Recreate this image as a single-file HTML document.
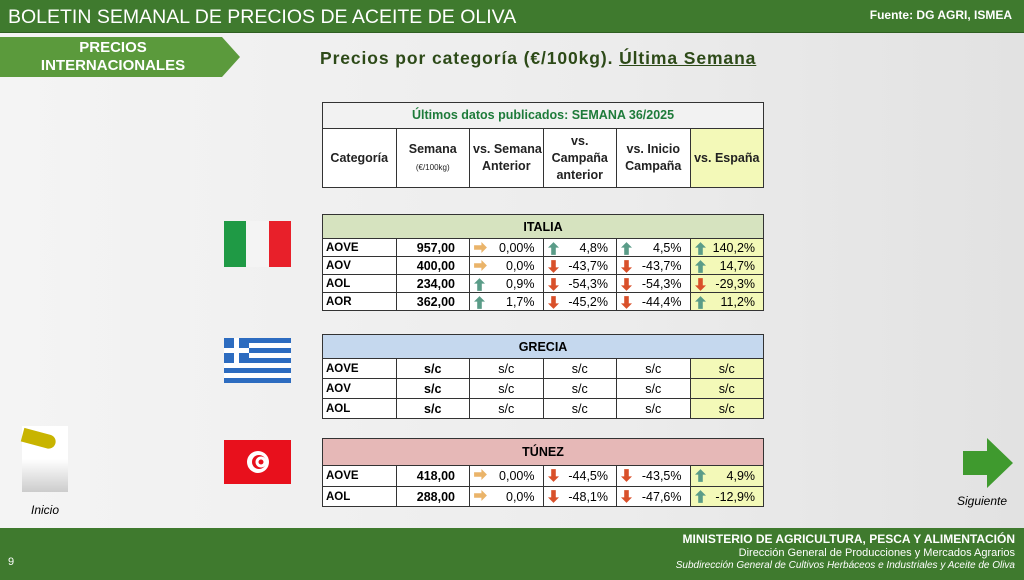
<!DOCTYPE html>
<html><head><meta charset="utf-8"><style>
*{margin:0;padding:0;box-sizing:border-box}
body{width:1024px;height:580px;position:relative;overflow:hidden;font-family:"Liberation Sans",sans-serif;background:linear-gradient(90deg,#f4f4f4,#ececec 60%,#e2e2e2)}
.top{position:absolute;left:0;top:0;width:1024px;height:33px;background:#3f7a2e;border-bottom:1px solid #2f5f22}
.top .t{position:absolute;left:8px;top:6px;color:#fff;font-size:19.5px}
.top .f{position:absolute;right:12px;top:8px;color:#fff;font-size:12px;font-weight:bold}
.tab{position:absolute;left:0;top:37px;width:240px;height:40px;background:#5b9a3c;clip-path:polygon(0 0,222px 0,240px 20px,222px 40px,0 40px);color:#fff;font-weight:bold;font-size:15px;text-align:center;line-height:18px;padding-top:2px;padding-right:14px}
.sub{position:absolute;left:320px;top:48px;font-size:17.5px;font-weight:bold;color:#2d4a18;letter-spacing:0.9px}
.sub u{text-decoration:underline}
table{position:absolute;left:322px;border-collapse:collapse;table-layout:fixed;font-size:12.5px}
td{border:1px solid #333;background:#fff;height:18px;padding:0 3px;white-space:nowrap}
col{width:73.5px}
.hd td{background:#fff;font-weight:bold;font-size:12.5px;text-align:center;line-height:17px;color:#222}
.c{font-weight:bold;text-align:left;font-size:11.5px}
.n{font-weight:bold;text-align:right;padding-right:14px}
.v{text-align:right;padding-right:8px;position:relative}
.y{background:#f3f9b8!important}
.v svg{position:absolute;left:4px;top:3px}
.foot{position:absolute;left:0;top:528px;width:1024px;height:52px;background:#3f7a2e;color:#fff;text-align:right;padding-right:9px}
</style></head><body>
<div class="top"><div class="t">BOLETIN SEMANAL DE PRECIOS DE ACEITE DE OLIVA</div><div class="f">Fuente: DG AGRI, ISMEA</div></div>
<div class="tab">PRECIOS<br>INTERNACIONALES</div>
<div class="sub">Precios por categoría (€/100kg). <u>Última Semana</u></div>

<svg width="0" height="0" style="position:absolute"><defs>
<symbol id="u" viewBox="0 0 12 14"><path d="M6 0L12 6H8.5V14H3.5V6H0Z" fill="#5a9c88"/></symbol>
<symbol id="d" viewBox="0 0 12 14"><path d="M6 14L12 8H8.5V0H3.5V8H0Z" fill="#d9502a"/></symbol>
<symbol id="r" viewBox="0 0 14 12"><path d="M14 6L8 0V3.5H0V8.5H8V12Z" fill="#eab46a"/></symbol>
</defs></svg>

<table style="top:102px;width:441px">
<colgroup><col><col><col><col><col><col></colgroup>
<tr class="hd"><td colspan="6" style="height:26px;color:#1e7b3a;font-size:12.5px;background:#f2f2f2">Últimos datos publicados: SEMANA 36/2025</td></tr>
<tr class="hd" style="height:59px"><td>Categoría</td><td>Semana<br><span style="font-weight:normal;font-size:8px">(€/100kg)</span></td><td>vs. Semana<br>Anterior</td><td>vs.<br>Campaña<br>anterior</td><td>vs. Inicio<br>Campaña</td><td class="y">vs. España</td></tr>
</table>

<table style="top:214px;width:441px">
<colgroup><col><col><col><col><col><col></colgroup>
<tr><td colspan="6" style="height:24px;background:#d6e3bf;text-align:center;font-weight:bold">ITALIA</td></tr>
<tr><td class="c">AOVE</td><td class="n">957,00</td><td class="v"><svg width="13" height="11"><use href="#r"/></svg>0,00%</td><td class="v"><svg width="11" height="13"><use href="#u"/></svg>4,8%</td><td class="v"><svg width="11" height="13"><use href="#u"/></svg>4,5%</td><td class="v y"><svg width="11" height="13"><use href="#u"/></svg>140,2%</td></tr>
<tr><td class="c">AOV</td><td class="n">400,00</td><td class="v"><svg width="13" height="11"><use href="#r"/></svg>0,0%</td><td class="v"><svg width="11" height="13"><use href="#d"/></svg>-43,7%</td><td class="v"><svg width="11" height="13"><use href="#d"/></svg>-43,7%</td><td class="v y"><svg width="11" height="13"><use href="#u"/></svg>14,7%</td></tr>
<tr><td class="c">AOL</td><td class="n">234,00</td><td class="v"><svg width="11" height="13"><use href="#u"/></svg>0,9%</td><td class="v"><svg width="11" height="13"><use href="#d"/></svg>-54,3%</td><td class="v"><svg width="11" height="13"><use href="#d"/></svg>-54,3%</td><td class="v y"><svg width="11" height="13"><use href="#d"/></svg>-29,3%</td></tr>
<tr><td class="c">AOR</td><td class="n">362,00</td><td class="v"><svg width="11" height="13"><use href="#u"/></svg>1,7%</td><td class="v"><svg width="11" height="13"><use href="#d"/></svg>-45,2%</td><td class="v"><svg width="11" height="13"><use href="#d"/></svg>-44,4%</td><td class="v y"><svg width="11" height="13"><use href="#u"/></svg>11,2%</td></tr>
</table>

<table style="top:334px;width:441px">
<colgroup><col><col><col><col><col><col></colgroup>
<tr><td colspan="6" style="height:24px;background:#c5d8ee;text-align:center;font-weight:bold">GRECIA</td></tr>
<tr style="height:20px"><td class="c">AOVE</td><td style="text-align:center;font-weight:bold">s/c</td><td style="text-align:center">s/c</td><td style="text-align:center">s/c</td><td style="text-align:center">s/c</td><td class="y" style="text-align:center">s/c</td></tr>
<tr style="height:20px"><td class="c">AOV</td><td style="text-align:center;font-weight:bold">s/c</td><td style="text-align:center">s/c</td><td style="text-align:center">s/c</td><td style="text-align:center">s/c</td><td class="y" style="text-align:center">s/c</td></tr>
<tr style="height:20px"><td class="c">AOL</td><td style="text-align:center;font-weight:bold">s/c</td><td style="text-align:center">s/c</td><td style="text-align:center">s/c</td><td style="text-align:center">s/c</td><td class="y" style="text-align:center">s/c</td></tr>
</table>

<table style="top:438px;width:441px">
<colgroup><col><col><col><col><col><col></colgroup>
<tr><td colspan="6" style="height:27px;background:#e6b8b7;text-align:center;font-weight:bold">TÚNEZ</td></tr>
<tr style="height:21px"><td class="c">AOVE</td><td class="n">418,00</td><td class="v"><svg width="13" height="11"><use href="#r"/></svg>0,00%</td><td class="v"><svg width="11" height="13"><use href="#d"/></svg>-44,5%</td><td class="v"><svg width="11" height="13"><use href="#d"/></svg>-43,5%</td><td class="v y"><svg width="11" height="13"><use href="#u"/></svg>4,9%</td></tr>
<tr style="height:20px"><td class="c">AOL</td><td class="n">288,00</td><td class="v"><svg width="13" height="11"><use href="#r"/></svg>0,0%</td><td class="v"><svg width="11" height="13"><use href="#d"/></svg>-48,1%</td><td class="v"><svg width="11" height="13"><use href="#d"/></svg>-47,6%</td><td class="v y"><svg width="11" height="13"><use href="#u"/></svg>-12,9%</td></tr>
</table>

<svg style="position:absolute;left:224px;top:221px" width="67" height="46"><rect width="22" height="46" fill="#1f9a45"/><rect x="22" width="23" height="46" fill="#f4f4f4"/><rect x="45" width="22" height="46" fill="#e8202a"/></svg>
<svg style="position:absolute;left:224px;top:338px" width="67" height="45"><rect width="67" height="45" fill="#2d6cc0"/><rect y="5" width="67" height="5" fill="#fff"/><rect y="15" width="67" height="5" fill="#fff"/><rect y="25" width="67" height="5" fill="#fff"/><rect y="35" width="67" height="5" fill="#fff"/><rect width="25" height="25" fill="#2d6cc0"/><rect x="10" width="5" height="25" fill="#fff"/><rect y="10" width="25" height="5" fill="#fff"/></svg>
<svg style="position:absolute;left:224px;top:440px" width="67" height="44"><rect width="67" height="44" fill="#e8101c"/><circle cx="34" cy="22" r="11" fill="#fff"/><circle cx="35" cy="22" r="7" fill="#e8101c"/><circle cx="37" cy="22" r="5.5" fill="#fff"/><circle cx="37" cy="22" r="2.5" fill="#e8101c"/></svg>

<div style="position:absolute;left:22px;top:426px;width:46px;height:66px;background:linear-gradient(#fff,#fff 50%,#ccc)"></div>
<div style="position:absolute;left:22px;top:432px;width:34px;height:14px;background:#c8b400;border-radius:0 8px 8px 0;transform:rotate(15deg)"></div>
<div style="position:absolute;left:31px;top:503px;font-size:12px;font-style:italic">Inicio</div>

<svg style="position:absolute;left:963px;top:438px" width="50" height="50"><path d="M0 13H24V0L50 25L24 50V37H0Z" fill="#3f9a2e"/></svg>
<div style="position:absolute;left:957px;top:494px;font-size:12px;font-style:italic">Siguiente</div>

<div class="foot">
<div style="font-weight:bold;font-size:12px;margin-top:4px">MINISTERIO DE AGRICULTURA, PESCA Y ALIMENTACIÓN</div>
<div style="font-size:11px;margin-top:1px">Dirección General de Producciones y Mercados Agrarios</div>
<div style="font-size:10px;font-style:italic;margin-top:1px">Subdirección General de Cultivos Herbáceos e Industriales y Aceite de Oliva</div>
<div style="position:absolute;left:8px;top:28px;font-size:11px">9</div>
</div>
</body></html>
